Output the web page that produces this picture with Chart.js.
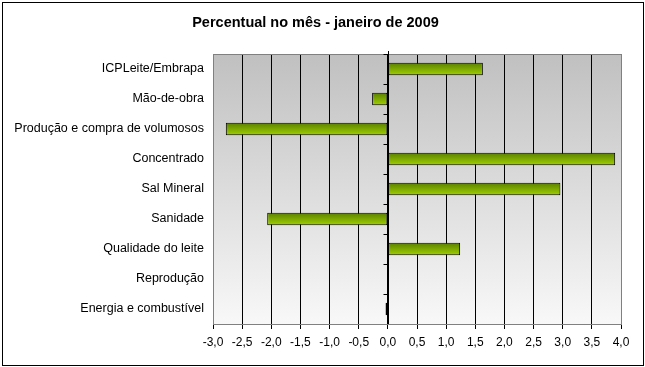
<!DOCTYPE html>
<html>
<head>
<meta charset="utf-8">
<script src="https://cdn.jsdelivr.net/npm/chart.js"></script>
<style>
  html, body { margin: 0; padding: 0; background: #fff; }
  #box { width: 645px; height: 367px; }
</style>
</head>
<body>
<div id="box"><canvas id="chart" width="645" height="367"></canvas></div>
<script>
var categories = ["ICPLeite/Embrapa", "Mão-de-obra", "Produção e compra de volumosos", "Concentrado", "Sal Mineral", "Sanidade", "Qualidade do leite", "Reprodução", "Energia e combustível"];
var percentual = [1.63, -0.27, -2.78, 3.90, 2.96, -2.07, 1.24, 0, -0.04];
var xMin = -3, xMax = 4, xStep = 0.5;

var context = document.getElementById("chart");

// plot area background, border, ticks on the zero line, outer frame
var decorations = {
  id: "decorations",
  beforeDraw: function (chart) {
    var c = chart.ctx, a = chart.chartArea;
    var g = c.createLinearGradient(0, a.top, 0, a.bottom);
    g.addColorStop(0, "#c0c0c0");
    g.addColorStop(1, "#f8f8f8");
    c.save();
    c.fillStyle = g;
    c.fillRect(a.left, a.top, a.right - a.left, a.bottom - a.top);
    c.restore();
  },
  beforeDatasetsDraw: function (chart) {
    var c = chart.ctx, a = chart.chartArea;
    var x0 = Math.round(chart.scales.x.getPixelForValue(0)) + 0.5;
    var step = (a.bottom - a.top) / categories.length;
    c.save();
    c.strokeStyle = "#808080";
    c.lineWidth = 1;
    c.strokeRect(Math.round(a.left) + 0.5, Math.round(a.top) + 0.5, Math.round(a.right - a.left), Math.round(a.bottom - a.top));
    c.strokeStyle = "#000";
    c.beginPath();
    c.moveTo(x0, a.top - 3);
    c.lineTo(x0, a.bottom);
    for (var i = 1; i < categories.length; i++) {
      var y = Math.round(a.top + i * step) + 0.5;
      c.moveTo(x0 - 5, y);
      c.lineTo(x0, y);
    }
    c.moveTo(x0 - 5, Math.round(a.top) + 0.5);
    c.lineTo(x0, Math.round(a.top) + 0.5);
    c.stroke();
    c.restore();
  },
  afterDraw: function (chart) {
    var c = chart.ctx;
    c.save();
    c.strokeStyle = "#000";
    c.lineWidth = 1;
    c.strokeRect(2.5, 2.5, 641, 363);
    c.restore();
  }
};

function barFill(ctx) {
  var chart = ctx.chart;
  if (!chart.chartArea || !chart.scales.y) return "#99cc00";
  var cy = chart.scales.y.getPixelForValue(ctx.dataIndex);
  var g = chart.ctx.createLinearGradient(0, cy - 6, 0, cy + 6);
  g.addColorStop(0, "#5c8000");
  g.addColorStop(1, "#9fd000");
  return g;
}

new Chart(context, {
  type: "bar",
  data: {
    labels: categories,
    datasets: [{
      label: "Percentual",
      data: percentual,
      backgroundColor: barFill,
      borderColor: "#000",
      borderWidth: 1,
      borderSkipped: false,
      barPercentage: 1,
      categoryPercentage: 0.42
    }]
  },
  options: {
    indexAxis: "y",
    responsive: false,
    animation: false,
    layout: { padding: { left: 10, right: 24, top: 0, bottom: 0 } },
    plugins: {
      legend: { display: false },
      tooltip: { enabled: false },
      title: {
        display: true,
        text: "Percentual no mês - janeiro de 2009",
        color: "#000",
        font: { family: "Liberation Sans, Arial, sans-serif", size: 14.5, weight: "bold" },
        padding: { top: 14, bottom: 22.6 }
      }
    },
    scales: {
      x: {
        min: xMin,
        max: xMax,
        afterFit: function (s) { s.height = 43; },
        ticks: {
          stepSize: xStep,
          color: "#000",
          padding: 6,
          maxRotation: 0,
          font: { family: "Liberation Sans, Arial, sans-serif", size: 12 },
          callback: function (v) { return v.toFixed(1).replace(".", ","); }
        },
        grid: {
          color: function (ctx) {
            var v = ctx.tick && ctx.tick.value;
            return (v === xMin || v === xMax) ? "#808080" : "#000";
          },
          tickColor: "#000",
          tickLength: 5
        },
        border: { display: false }
      },
      y: {
        afterFit: function (s) { s.width = 203; },
        ticks: {
          color: "#000",
          padding: 1,
          font: { family: "Liberation Sans, Arial, sans-serif", size: 12.5 }
        },
        grid: { display: false },
        border: { display: false }
      }
    }
  },
  plugins: [decorations]
});
</script>
</body>
</html>
